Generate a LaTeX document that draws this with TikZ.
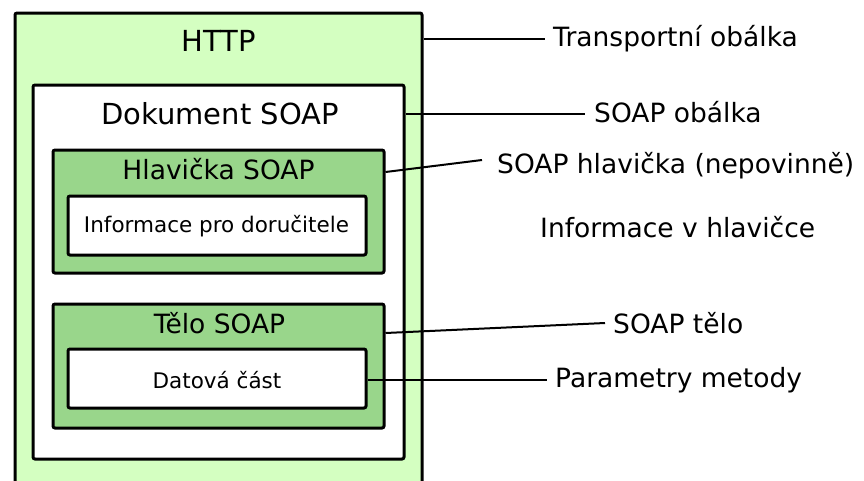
\documentclass[tikz,border=0pt]{standalone}
\usepackage{fontspec}
\setmainfont{DejaVu Sans}
\definecolor{lightgr}{HTML}{D4FFC1}
\definecolor{midgr}{HTML}{99D68B}
\tikzset{
  boxx/.style={draw=black, line width=3pt, rounded corners=2pt, inner sep=0pt, anchor=center},
  bigt/.style={inner sep=0pt, anchor=base, font=\fontsize{29}{34}\selectfont},
  midt/.style={inner sep=0pt, anchor=base, font=\fontsize{26.5}{31}\selectfont},
  smallt/.style={inner sep=0pt, anchor=base, font=\fontsize{21.5}{25}\selectfont},
  lab/.style={inner sep=0pt, anchor=base west, font=\fontsize{26.5}{31}\selectfont},
  conn/.style={draw=black, line width=2pt}
}
\begin{document}
\begin{tikzpicture}[x=1pt,y=-1pt]
\useasboundingbox (0,0) rectangle (864,480);
\clip (0,0) rectangle (864,480);
% boxes
\node[boxx, fill=lightgr, minimum width=407pt, minimum height=477pt] (http) at (218.5,251.5) {};
\node[boxx, fill=white, minimum width=371pt, minimum height=374pt] (doc) at (218.5,272) {};
\node[boxx, fill=midgr, minimum width=331pt, minimum height=123pt] (hlav) at (218.5,211.5) {};
\node[boxx, fill=white, minimum width=298pt, minimum height=59pt] (info) at (217,225.5) {};
\node[boxx, fill=midgr, minimum width=331pt, minimum height=124pt] (telo) at (218.5,366) {};
\node[boxx, fill=white, minimum width=298pt, minimum height=59pt] (data) at (217,378.5) {};
% titles
\node[bigt] (httpt) at (219,51) {HTTP};
\node[bigt] (doct) at (220,124) {Dokument SOAP};
\node[midt] (hlavt) at (218.5,179) {Hlavička SOAP};
\node[smallt] (infot) at (216.5,232) {Informace pro doručitele};
\node[midt] (telot) at (219.5,333) {Tělo SOAP};
\node[smallt] (datat) at (217,388) {Datová část};
% right labels
\node[lab] (l1) at (553,46) {Transportní obálka};
\node[lab] (l2) at (594,122) {SOAP obálka};
\node[lab] (l3) at (497,173) {SOAP hlavička (nepovinně)};
\node[lab] (l4) at (540,237) {Informace v hlavičce};
\node[lab] (l5) at (613,333) {SOAP tělo};
\node[lab] (l6) at (555,387) {Parametry metody};
% connector ends
\coordinate (e1) at (545,39);
\coordinate (e2) at (585,114);
\coordinate (e3) at (482,160);
\coordinate (e5) at (605,323);
\coordinate (e6) at (547,380);
% connectors
\draw[conn] (http.east |- e1) -- (e1);
\draw[conn] (doc.east |- e2) -- (e2);
\draw[conn] (hlav.east |- 0,172) -- (e3);
\draw[conn] (telo.east |- 0,333) -- (e5);
\draw[conn] (data.east |- e6) -- (e6);
\end{tikzpicture}
\end{document}
